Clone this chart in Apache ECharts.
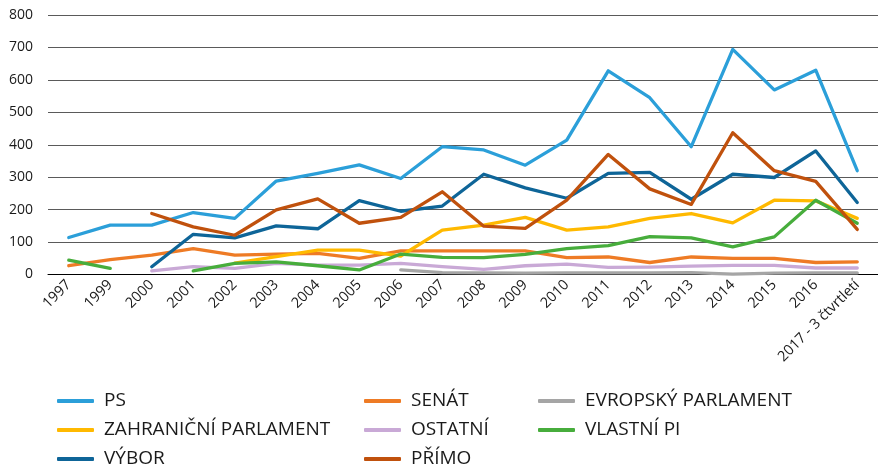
<!DOCTYPE html>
<html>
<head>
<meta charset="utf-8">
<script src="https://cdn.jsdelivr.net/npm/echarts@6/dist/echarts.min.js"></script>
<style>html,body{margin:0;padding:0;background:#fff}#c{width:878px;height:470px}</style>
</head>
<body>
<div id="c"></div>
<script>
const categories = ['1997','1999','2000','2001','2002','2003','2004','2005','2006','2007','2008','2009','2010','2011','2012','2013','2014','2015','2016','2017 - 3 čtvrtletí'];
const ps          = [114,152,152,191,173,288,312,338,296,394,384,337,414,628,545,394,694,569,630,320];
const senat       = [27,46,60,80,60,63,65,50,73,73,73,73,52,54,37,54,50,50,37,39];
const evropsky    = [null,null,null,null,null,null,null,null,14,6,5,4,5,5,5,6,1,4,5,5];
const zahranicni  = [null,null,null,null,35,55,75,75,57,137,152,176,137,147,173,188,159,229,227,173];
const ostatni     = [null,null,11,24,19,34,29,29,34,24,16,27,32,22,23,26,28,28,20,20];
const vlastniPi   = [44,19,null,11,34,39,27,14,63,53,52,62,80,89,117,113,85,116,229,158];
const vybor       = [null,null,24,124,113,150,141,228,195,211,309,267,235,312,315,232,309,299,381,222];
const primo       = [null,null,188,147,121,199,233,158,176,255,149,142,229,370,264,216,437,320,287,139];
const yTicks = {min: 0, max: 800, interval: 100};

const names = ['PS','SENÁT','EVROPSKÝ PARLAMENT','ZAHRANIČNÍ PARLAMENT','OSTATNÍ','VLASTNÍ PI','VÝBOR','PŘÍMO'];
const values = [ps, senat, evropsky, zahranicni, ostatni, vlastniPi, vybor, primo];
const colors = ['#2b9fd9','#ee7b25','#a5a5a5','#ffb900','#c9a9d6','#47ad3c','#0e6598','#c0510d'];

const font = 'Open Sans';
function legendCol(left, data) {
  return {
    orient: 'vertical', left: left, top: 386, height: 140, data: data,
    icon: 'roundRect', itemWidth: 37, itemHeight: 4, itemGap: 9,
    textStyle: {fontFamily: font, fontSize: 19, color: '#1a1a1a', lineHeight: 20, padding: [0,0,0,5]}
  };
}

const chart = echarts.init(document.getElementById('c'), null, {renderer: 'canvas'});
chart.setOption({
  animation: false,
  color: colors,
  grid: {left: 48, top: 15, width: 832, height: 259.5, containLabel: false},
  legend: [
    legendCol(52, ['PS','ZAHRANIČNÍ PARLAMENT','VÝBOR']),
    legendCol(359, ['SENÁT','OSTATNÍ','PŘÍMO']),
    legendCol(533, ['EVROPSKÝ PARLAMENT','VLASTNÍ PI'])
  ],
  xAxis: {
    type: 'category', data: categories, boundaryGap: true,
    axisLine: {show: true, lineStyle: {color: '#000', width: 1}},
    axisTick: {show: false},
    axisLabel: {interval: 0, rotate: 45, margin: 8, fontFamily: font, fontSize: 14.5, color: '#1a1a1a'}
  },
  yAxis: {
    type: 'value', min: yTicks.min, max: yTicks.max, interval: yTicks.interval,
    axisLine: {show: false}, axisTick: {show: false},
    axisLabel: {margin: 15, fontFamily: font, fontSize: 14, color: '#1a1a1a'},
    splitLine: {lineStyle: {color: '#5a5a5a', width: 1}}
  },
  series: names.map((n, i) => ({
    name: n, type: 'line', data: values[i], showSymbol: false, symbol: 'none',
    connectNulls: false,
    lineStyle: {width: 3.3, color: colors[i], cap: 'round', join: 'round'},
    itemStyle: {color: colors[i]}
  }))
});
</script>
</body>
</html>
